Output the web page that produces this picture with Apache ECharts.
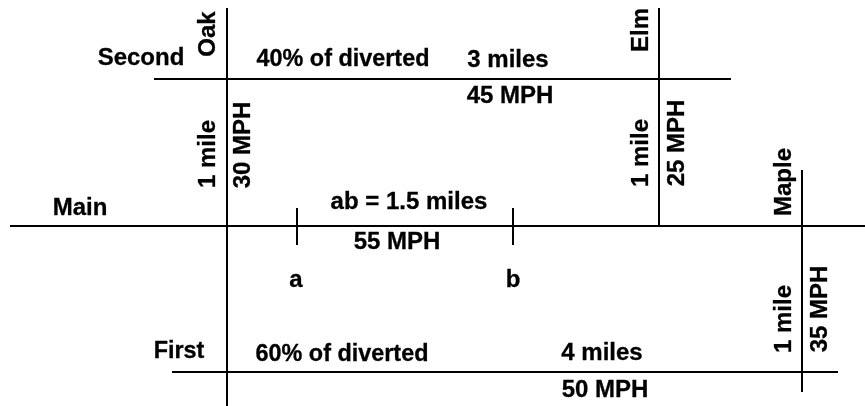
<!DOCTYPE html>
<html><head><meta charset="utf-8"><style>html,body{margin:0;padding:0;background:#fff}#c{width:865px;height:406px}</style>
<script src="https://cdn.jsdelivr.net/npm/echarts@6/dist/echarts.min.js"></script></head>
<body><div id="c"></div>
<script>
// Road network: [x1, y1, x2, y2] in picture units
const roads = [
  [227,8,227,406],[154,79,731,79],[659,8,659,226],[10,226,865,226],
  [802,170,802,392],[172,372,838,372],[297,208,297,245],[513,208,513,245]
];
// horizontal labels: [text, centre x, centre y]
const flatLabels = [
  ["Second",141,58],["3 miles",508,60],["45 MPH",510,96],
  ["Main",80,208],["ab = 1.5 miles",409,202],["55 MPH",397,242],["a",296,280],["b",513,280],
  ["4 miles",602,353],["50 MPH",605,390]
];
// share labels
const shareLabels = [["First",179,352],["40% of diverted",343,60],["60% of diverted",342,355]];
// vertical labels
const tallLabels = [
  ["Oak",208,34],["Elm",641,30],["Maple",784,182],["1 mile",208,154],["30 MPH",243,145],
  ["1 mile",641,153],["25 MPH",677,143],["1 mile",784,319],["35 MPH",820,309]
];
const labelStyle = {show:true,position:'inside',color:'#000',opacity:1,fontFamily:'"Liberation Sans",Arial,sans-serif',fontWeight:'bold',fontSize:24,textBorderColor:'#000',textBorderWidth:0.3,formatter:p=>p.value[2]};
const series = roads.map(r=>({type:'line',data:[[r[0],r[1]],[r[2],r[3]]],symbol:'none',silent:true,lineStyle:{color:'#000',width:2},animation:false}));
const hidden = {color:'rgba(0,0,0,0)'};
const textSeries = (rows,label)=>({type:'scatter',symbol:'circle',symbolSize:2,itemStyle:hidden,animation:false,silent:true,data:rows.map(l=>[l[1],l[2],l[0]]),label});
series.push(textSeries(flatLabels,labelStyle));
series.push(textSeries(shareLabels,Object.assign({},labelStyle,{fontSize:23.4})));
series.push(textSeries(tallLabels,Object.assign({},labelStyle,{rotate:90})));
const chart = echarts.init(document.getElementById('c'),null,{renderer:'canvas'});
chart.setOption({
  backgroundColor:'#fff',
  grid:{left:0,right:0,top:0,bottom:0},
  xAxis:{type:'value',min:0,max:865,show:false},
  yAxis:{type:'value',min:0,max:406,inverse:true,show:false},
  series
});
</script></body></html>
